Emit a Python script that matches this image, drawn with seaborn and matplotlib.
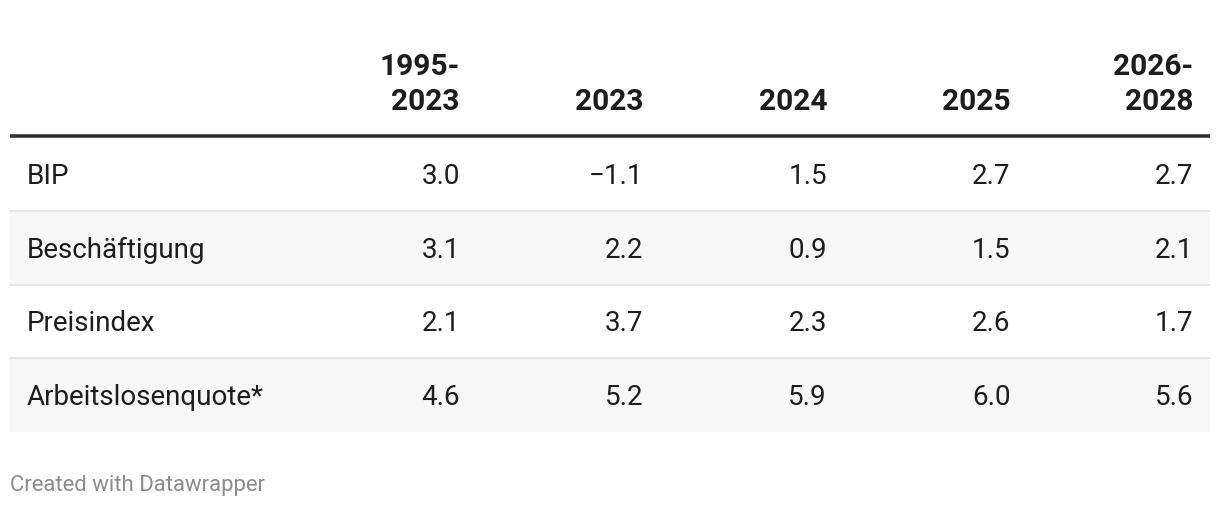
import matplotlib
matplotlib.use("Agg")
import matplotlib.pyplot as plt
import seaborn as sns
import pandas as pd

# ---- data ----
columns = ["1995-\n2023", "2023", "2024", "2025", "2026-\n2028"]
row_labels = ["BIP", "Beschäftigung", "Preisindex", "Arbeitslosenquote*"]
bip = [3.0, -1.1, 1.5, 2.7, 2.7]
beschaeftigung = [3.1, 2.2, 0.9, 1.5, 2.1]
preisindex = [2.1, 3.7, 2.3, 2.6, 1.7]
arbeitslosenquote = [4.6, 5.2, 5.9, 6.0, 5.6]
footer = "Created with Datawrapper"

df = pd.DataFrame([bip, beschaeftigung, preisindex, arbeitslosenquote],
                  index=row_labels, columns=columns)

sns.set_theme(style="white")
plt.rcParams['font.family'] = ['Roboto', 'DejaVu Sans']

W, H = 1220, 508
fig = plt.figure(figsize=(W / 100, H / 100), dpi=100)
ax = fig.add_axes([0, 0, 1, 1])
ax.set_xlim(0, W)
ax.set_ylim(H, 0)
ax.axis("off")

left, right = 10, 1210
header_line_y = 135.5
row_top = 137.5
row_h = 73.6
col_right = [460, 643.5, 827, 1010.5, 1193.5]
label_x = 27

def fmt(v):
    s = f"{abs(v):.1f}"
    return ("\u2212" + s) if v < 0 else s

# header
for c, name in enumerate(df.columns):
    ax.text(col_right[c], 110, name, ha="right", va="baseline", fontsize=21.5,
            fontweight="bold", color="#1d1d1d", linespacing=1.3)
ax.plot([left, right], [header_line_y, header_line_y], color="#333333", lw=2.6,
        solid_capstyle="butt")

for r, label in enumerate(df.index):
    top = row_top + r * row_h
    if r % 2 == 1:
        ax.fill_between([left, right], top, top + row_h, color="#f7f7f7", lw=0)
    if r < len(df.index) - 1:
        ax.plot([left, right], [top + row_h, top + row_h], color="#e6e6e6", lw=1.4)
    base = top + 46.5
    ax.text(label_x, base, label, ha="left", va="baseline", fontsize=20,
            color="#1d1d1d")
    for c, v in enumerate(df.loc[label]):
        ax.text(col_right[c], base, fmt(v), ha="right", va="baseline",
                fontsize=20, color="#1d1d1d")

ax.text(10, 491, footer, ha="left", va="baseline", fontsize=15.9, color="#8c8c8c")

fig.savefig("out.png", dpi=100, facecolor="white")
